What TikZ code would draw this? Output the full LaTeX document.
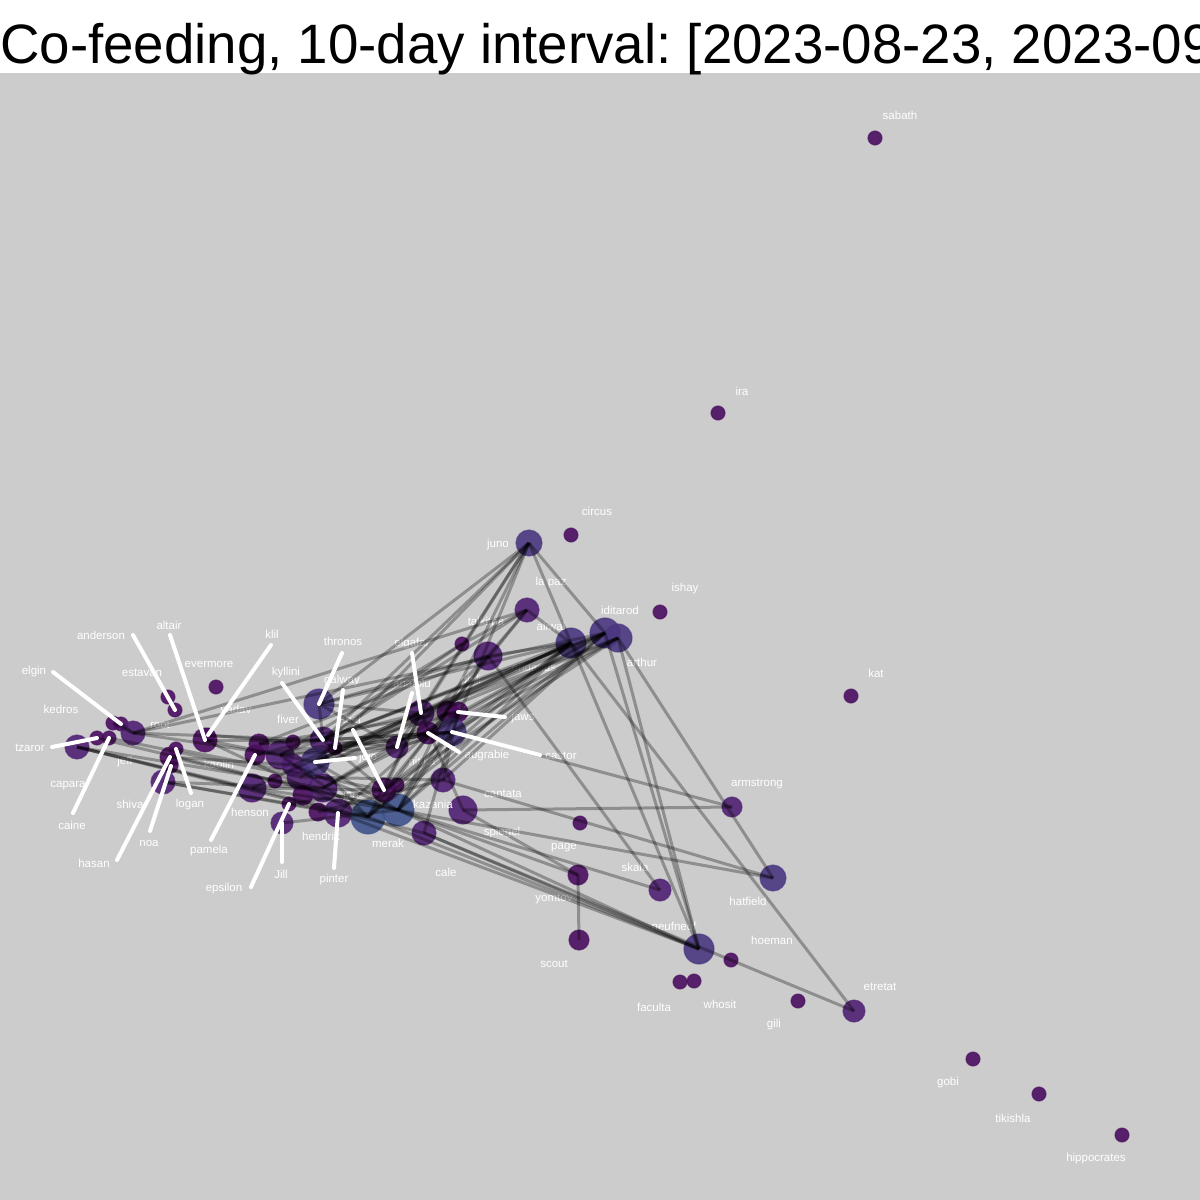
\documentclass[tikz,border=0pt]{standalone}
\usepackage{fontspec}
\setmainfont{Liberation Sans}
\frenchspacing
\definecolor{vs}{RGB}{75,14,96}
\definecolor{vm}{RGB}{80,33,115}
\definecolor{vl}{RGB}{74,55,128}
\definecolor{vb}{RGB}{64,84,140}
\definecolor{bg}{RGB}{204,204,204}
\tikzset{
  dot/.style={circle, draw=#1, fill=#1, inner sep=0pt, fill opacity=.9, draw opacity=.6, line width=1.2pt},
  lbl/.style={text=white, inner sep=0pt, font=\fontsize{11.5}{12}\selectfont},
  edge/.style={black, opacity=.3, line width=3pt},
  leader/.style={white, line width=4pt, line cap=round}
}
\begin{document}
\begin{tikzpicture}[x=1pt,y=-1pt]
\useasboundingbox (0,0) rectangle (1200,1200);
\fill[white] (0,0) rectangle (1200,73);
\fill[bg] (0,73) rectangle (1200,1200);
\node[anchor=base west, inner sep=0pt, font=\fontsize{55.5}{60}\selectfont] (title) at (0,63) {\scalebox{0.985}[1]{Co-feeding, 10-day interval: [2023-08-23, 2023-09}};

% outer nodes
\node[dot=vs, minimum size=14pt] (sabath) at (875,138) {};
\node[dot=vs, minimum size=14pt] (ira) at (718,413) {};
\node[dot=vs, minimum size=14pt] (circus) at (571,535) {};
\node[dot=vl, minimum size=26pt] (juno) at (529,543) {};
\node[dot=vm, minimum size=24pt] (lapaz) at (527,610) {};
\node[dot=vs, minimum size=14pt] (ishay) at (660,612) {};
\node[dot=vl, minimum size=30pt] (iditarod) at (605,633) {};
\node[dot=vl, minimum size=28pt] (arthur) at (618,638) {};
\node[dot=vl, minimum size=30pt] (aliwal) at (571,643) {};
\node[dot=vs, minimum size=14pt] (talkitna) at (462,644) {};
\node[dot=vm, minimum size=28pt] (eridanus) at (488,656) {};
\node[dot=vs, minimum size=14pt] (kat) at (851,696) {};
\node[dot=vm, minimum size=20pt] (armstrong) at (732,807) {};
\node[dot=vs, minimum size=14pt] (page) at (580,823) {};
\node[dot=vl, minimum size=26pt] (hatfield) at (773,878) {};
\node[dot=vs, minimum size=20pt] (yomtov) at (578,875) {};
\node[dot=vm, minimum size=22pt] (skala) at (660,890) {};
\node[dot=vs, minimum size=20pt] (scout) at (579,940) {};
\node[dot=vl, minimum size=30pt] (neufneuf) at (699,949) {};
\node[dot=vs, minimum size=14pt] (hoeman) at (731,960) {};
\node[dot=vs, minimum size=14pt] (faculta) at (680,982) {};
\node[dot=vs, minimum size=14pt] (whosit) at (694,981) {};
\node[dot=vs, minimum size=14pt] (gili) at (798,1001) {};
\node[dot=vm, minimum size=22pt] (etretat) at (854,1011) {};
\node[dot=vs, minimum size=14pt] (gobi) at (973,1059) {};
\node[dot=vs, minimum size=14pt] (tikishla) at (1039,1094) {};
\node[dot=vs, minimum size=14pt] (hippocrates) at (1122,1135) {};

% left group
\node[dot=vs, minimum size=14pt] (kedros) at (113,723) {};
\node[dot=vs, minimum size=14pt] (elgin) at (121,724) {};
\node[dot=vm, minimum size=24pt] (root) at (133,733) {};
\node[dot=vm, minimum size=24pt] (capara) at (77,747) {};
\node[dot=vs, minimum size=14pt] (tzaror) at (97,738) {};
\node[dot=vs, minimum size=14pt] (caine) at (109,738) {};
\node[dot=vs, minimum size=14pt] (estavan) at (168,697) {};
\node[dot=vs, minimum size=14pt] (anderson) at (175,710) {};
\node[dot=vs, minimum size=14pt] (evermore) at (216,687) {};
\node[dot=vs, minimum size=24pt] (altair) at (205,740) {};
\node[dot=vs, minimum size=14pt] (klil) at (208,735) {};
\node[dot=vm, minimum size=24pt] (shiva) at (163,782) {};
\node[dot=vs, minimum size=20pt] (hasan) at (170,757) {};
\node[dot=vs, minimum size=14pt] (logan) at (176,749) {};
\node[dot=vs, minimum size=14pt] (noa) at (171,766) {};

% centre group
\node[dot=vs, minimum size=20pt] (c01) at (259,744) {};
\node[dot=vs, minimum size=20pt] (pamela) at (255,755) {};
\node[dot=vm, minimum size=28pt] (c02) at (280,755) {};
\node[dot=vs, minimum size=14pt] (c03) at (293,742) {};
\node[dot=vm, minimum size=22pt] (c04) at (293,765) {};
\node[dot=vm, minimum size=26pt] (c05) at (300,777) {};
\node[dot=vs, minimum size=14pt] (c06) at (275,781) {};
\node[dot=vs, minimum size=20pt] (c07) at (303,795) {};
\node[dot=vm, minimum size=28pt] (henson) at (252,788) {};
\node[dot=vm, minimum size=22pt] (jill) at (282,823) {};
\node[dot=vs, minimum size=14pt] (epsilon) at (289,804) {};
\node[dot=vl, minimum size=30pt] (thronos) at (319,704) {};
\node[dot=vm, minimum size=26pt] (kyllini) at (323,740) {};
\node[dot=vl, minimum size=28pt] (jojo) at (315,762) {};
\node[dot=vs, minimum size=14pt] (galway) at (335,748) {};
\node[dot=vm, minimum size=28pt] (jog) at (323,788) {};
\node[dot=vs, minimum size=18pt] (hendrik) at (318,812) {};
\node[dot=vm, minimum size=28pt] (pinter) at (338,813) {};
\node[dot=vb, minimum size=34pt] (merak) at (368,817) {};
\node[dot=vb, minimum size=32pt] (kazania) at (398,810) {};
\node[dot=vs, minimum size=24pt] (abel) at (384,790) {};
\node[dot=vs, minimum size=14pt] (c08) at (397,785) {};
\node[dot=vm, minimum size=22pt] (anatolu) at (397,747) {};
\node[dot=vm, minimum size=26pt] (elgafar) at (421,713) {};
\node[dot=vs, minimum size=22pt] (augrabie) at (428,733) {};
\node[dot=vs, minimum size=22pt] (c09) at (448,712) {};
\node[dot=vs, minimum size=20pt] (jaws) at (458,712) {};
\node[dot=vl, minimum size=28pt] (castor) at (452,732) {};
\node[dot=vm, minimum size=24pt] (nitika) at (443,780) {};
\node[dot=vm, minimum size=28pt] (cantata) at (463,810) {};
\node[dot=vm, minimum size=24pt] (cale) at (424,833) {};

% labels
\node[lbl] (l-sabath) at (900,115) {sabath};
\node[lbl] (l-ira) at (742,391) {ira};
\node[lbl] (l-circus) at (597,511) {circus};
\node[lbl] (l-juno) at (498,545) {juno};
\node[lbl] (l-lapaz) at (551,583) {la paz};
\node[lbl] (l-ishay) at (685,589) {ishay};
\node[lbl] (l-iditarod) at (620,610) {iditarod};
\node[lbl] (l-arthur) at (642,662) {arthur};
\node[lbl] (l-aliwal) at (551,626) {aliwal};
\node[lbl] (l-talkitna) at (486,621) {talkitna};
\node[lbl] (l-eridanus) at (534,667) {eridanus};
\node[lbl] (l-kat) at (876,673) {kat};
\node[lbl] (l-armstrong) at (757,784) {armstrong};
\node[lbl] (l-page) at (564,848) {page};
\node[lbl] (l-hatfield) at (748,901) {hatfield};
\node[lbl] (l-yomtov) at (554,899) {yomtov};
\node[lbl] (l-skala) at (635,867) {skala};
\node[lbl] (l-scout) at (554,964) {scout};
\node[lbl] (l-neufneuf) at (674,926) {neufneuf};
\node[lbl] (l-hoeman) at (772,940) {hoeman};
\node[lbl] (l-faculta) at (654,1007) {faculta};
\node[lbl] (l-whosit) at (720,1004) {whosit};
\node[lbl] (l-gili) at (774,1025) {gili};
\node[lbl] (l-etretat) at (880,987) {etretat};
\node[lbl] (l-gobi) at (948,1083) {gobi};
\node[lbl] (l-tikishla) at (1013,1118) {tikishla};
\node[lbl] (l-hippocrates) at (1096,1159) {hippocrates};
\node[lbl] (l-kedros) at (61,709) {kedros};
\node[lbl] (l-root) at (160,725) {root};
\node[lbl] (l-jeff) at (125,762) {jeff};
\node[lbl] (l-capara) at (68,786) {capara};
\node[lbl] (l-estavan) at (142,673) {estavan};
\node[lbl] (l-evermore) at (209,664) {evermore};
\node[lbl] (l-yadav) at (236,711) {yadav};
\node[lbl] (l-kaolin) at (219,764) {kaolin};
\node[lbl] (l-shiva) at (130,804) {shiva};
\node[lbl] (l-henson) at (250,812) {henson};
\node[lbl] (l-hendrik) at (321,836) {hendrik};
\node[lbl] (l-fiver) at (288,719) {fiver};
\node[lbl] (l-jog) at (351,796) {jog};
\node[lbl] (l-merak) at (388,843) {merak};
\node[lbl] (l-kazania) at (433,804) {kazania};
\node[lbl] (l-nitika) at (422,761) {nitika};
\node[lbl] (l-phili) at (471,681) {phili};
\node[lbl] (l-cantata) at (503,794) {cantata};
\node[lbl] (l-spiegel) at (502,833) {spiegel};
\node[lbl] (l-cale) at (446,872) {cale};
\node[lbl] (l-elgin) at (34,672) {elgin};
\node[lbl] (l-anderson) at (101,635) {anderson};
\node[lbl] (l-altair) at (169,625) {altair};
\node[lbl] (l-klil) at (272,634) {klil};
\node[lbl] (l-tzaror) at (30,748) {tzaror};
\node[lbl] (l-caine) at (72,825) {caine};
\node[lbl] (l-hasan) at (94,863) {hasan};
\node[lbl] (l-noa) at (149,843) {noa};
\node[lbl] (l-logan) at (190,805) {logan};
\node[lbl] (l-pamela) at (209,851) {pamela};
\node[lbl] (l-jill) at (281,874) {Jill};
\node[lbl] (l-epsilon) at (224,889) {epsilon};
\node[lbl] (l-thronos) at (343,641) {thronos};
\node[lbl] (l-kyllini) at (286,673) {kyllini};
\node[lbl] (l-galway) at (342,681) {galway};
\node[lbl] (l-abel) at (350,719) {abel};
\node[lbl] (l-jojo) at (368,758) {jojo};
\node[lbl] (l-elgafar) at (412,644) {elgafar};
\node[lbl] (l-anatolu) at (412,683) {anatolu};
\node[lbl] (l-jaws) at (523,718) {jaws};
\node[lbl] (l-castor) at (561,756) {castor};
\node[lbl] (l-augrabie) at (487,756) {augrabie};
\node[lbl] (l-pinter) at (334,880) {pinter};

% edges
\path[draw,edge] (juno.center) -- (thronos.center);
\path[draw,edge] (juno.center) -- (jojo.center);
\path[draw,edge] (juno.center) -- (anatolu.center);
\path[draw,edge] (juno.center) -- (elgafar.center);
\path[draw,edge] (juno.center) -- (castor.center);
\path[draw,edge] (juno.center) -- (aliwal.center);
\path[draw,edge] (juno.center) -- (iditarod.center);
\path[draw,edge] (juno.center) -- (kyllini.center);
\path[draw,edge] (juno.center) -- (kazania.center);
\path[draw,edge] (lapaz.center) -- (talkitna.center);
\path[draw,edge] (lapaz.center) -- (eridanus.center);
\path[draw,edge] (lapaz.center) -- (kyllini.center);
\path[draw,edge] (lapaz.center) -- (root.center);
\path[draw,edge] (lapaz.center) -- (aliwal.center);
\path[draw,edge] (lapaz.center) -- (augrabie.center);
\path[draw,edge] (aliwal.center) -- (thronos.center);
\path[draw,edge] (aliwal.center) -- (kyllini.center);
\path[draw,edge] (aliwal.center) -- (jojo.center);
\path[draw,edge] (aliwal.center) -- (abel.center);
\path[draw,edge] (aliwal.center) -- (merak.center);
\path[draw,edge] (aliwal.center) -- (kazania.center);
\path[draw,edge] (aliwal.center) -- (elgafar.center);
\path[draw,edge] (aliwal.center) -- (castor.center);
\path[draw,edge] (aliwal.center) -- (henson.center);
\path[draw,edge] (aliwal.center) -- (c05.center);
\path[draw,edge] (aliwal.center) -- (neufneuf.center);
\path[draw,edge] (aliwal.center) -- (etretat.center);
\path[draw,edge] (aliwal.center) -- (eridanus.center);
\path[draw,edge] (iditarod.center) -- (kyllini.center);
\path[draw,edge] (iditarod.center) -- (jojo.center);
\path[draw,edge] (iditarod.center) -- (merak.center);
\path[draw,edge] (iditarod.center) -- (kazania.center);
\path[draw,edge] (iditarod.center) -- (augrabie.center);
\path[draw,edge] (iditarod.center) -- (c02.center);
\path[draw,edge] (iditarod.center) -- (neufneuf.center);
\path[draw,edge] (iditarod.center) -- (root.center);
\path[draw,edge] (iditarod.center) -- (anatolu.center);
\path[draw,edge] (iditarod.center) -- (nitika.center);
\path[draw,edge] (arthur.center) -- (jojo.center);
\path[draw,edge] (arthur.center) -- (abel.center);
\path[draw,edge] (arthur.center) -- (castor.center);
\path[draw,edge] (arthur.center) -- (neufneuf.center);
\path[draw,edge] (arthur.center) -- (hatfield.center);
\path[draw,edge] (arthur.center) -- (jog.center);
\path[draw,edge] (arthur.center) -- (elgafar.center);
\path[draw,edge] (eridanus.center) -- (skala.center);
\path[draw,edge] (eridanus.center) -- (thronos.center);
\path[draw,edge] (eridanus.center) -- (c01.center);
\path[draw,edge] (eridanus.center) -- (anatolu.center);
\path[draw,edge] (eridanus.center) -- (merak.center);
\path[draw,edge] (talkitna.center) -- (kyllini.center);
\path[draw,edge] (talkitna.center) -- (c02.center);
\path[draw,edge] (cantata.center) -- (armstrong.center);
\path[draw,edge] (castor.center) -- (armstrong.center);
\path[draw,edge] (kazania.center) -- (hatfield.center);
\path[draw,edge] (nitika.center) -- (hatfield.center);
\path[draw,edge] (merak.center) -- (neufneuf.center);
\path[draw,edge] (kazania.center) -- (neufneuf.center);
\path[draw,edge] (cale.center) -- (neufneuf.center);
\path[draw,edge] (pinter.center) -- (neufneuf.center);
\path[draw,edge] (cantata.center) -- (yomtov.center);
\path[draw,edge] (kazania.center) -- (yomtov.center);
\path[draw,edge] (yomtov.center) -- (scout.center);
\path[draw,edge] (kazania.center) -- (skala.center);
\path[draw,edge] (cale.center) -- (etretat.center);
\path[draw,edge] (root.center) -- (c02.center);
\path[draw,edge] (root.center) -- (kyllini.center);
\path[draw,edge] (capara.center) -- (henson.center);
\path[draw,edge] (capara.center) -- (jog.center);
\path[draw,edge] (capara.center) -- (merak.center);
\path[draw,edge] (capara.center) -- (cale.center);
\path[draw,edge] (tzaror.center) -- (kazania.center);
\path[draw,edge] (caine.center) -- (c05.center);
\path[draw,edge] (altair.center) -- (kyllini.center);
\path[draw,edge] (altair.center) -- (jojo.center);
\path[draw,edge] (altair.center) -- (merak.center);
\path[draw,edge] (shiva.center) -- (merak.center);
\path[draw,edge] (shiva.center) -- (jog.center);
\path[draw,edge] (shiva.center) -- (pinter.center);
\path[draw,edge] (hasan.center) -- (kazania.center);
\path[draw,edge] (hasan.center) -- (c04.center);
\path[draw,edge] (logan.center) -- (abel.center);
\path[draw,edge] (kedros.center) -- (root.center);
\path[draw,edge] (elgin.center) -- (root.center);
\path[draw,edge] (klil.center) -- (c03.center);
\path[draw,edge] (thronos.center) -- (kyllini.center);
\path[draw,edge] (thronos.center) -- (elgafar.center);
\path[draw,edge] (thronos.center) -- (anatolu.center);
\path[draw,edge] (kyllini.center) -- (anatolu.center);
\path[draw,edge] (kyllini.center) -- (castor.center);
\path[draw,edge] (kyllini.center) -- (abel.center);
\path[draw,edge] (jojo.center) -- (merak.center);
\path[draw,edge] (jojo.center) -- (kazania.center);
\path[draw,edge] (jojo.center) -- (anatolu.center);
\path[draw,edge] (jojo.center) -- (elgafar.center);
\path[draw,edge] (jojo.center) -- (augrabie.center);
\path[draw,edge] (c02.center) -- (merak.center);
\path[draw,edge] (c02.center) -- (anatolu.center);
\path[draw,edge] (c02.center) -- (castor.center);
\path[draw,edge] (c04.center) -- (kazania.center);
\path[draw,edge] (c04.center) -- (elgafar.center);
\path[draw,edge] (c05.center) -- (nitika.center);
\path[draw,edge] (galway.center) -- (castor.center);
\path[draw,edge] (galway.center) -- (jaws.center);
\path[draw,edge] (jog.center) -- (anatolu.center);
\path[draw,edge] (jog.center) -- (c09.center);
\path[draw,edge] (henson.center) -- (abel.center);
\path[draw,edge] (henson.center) -- (kazania.center);
\path[draw,edge] (pamela.center) -- (augrabie.center);
\path[draw,edge] (pamela.center) -- (elgafar.center);
\path[draw,edge] (c01.center) -- (jaws.center);
\path[draw,edge] (c01.center) -- (castor.center);
\path[draw,edge] (merak.center) -- (elgafar.center);
\path[draw,edge] (merak.center) -- (castor.center);
\path[draw,edge] (kazania.center) -- (castor.center);
\path[draw,edge] (kazania.center) -- (jaws.center);
\path[draw,edge] (abel.center) -- (elgafar.center);
\path[draw,edge] (abel.center) -- (c09.center);
\path[draw,edge] (anatolu.center) -- (castor.center);
\path[draw,edge] (pinter.center) -- (augrabie.center);
\path[draw,edge] (cale.center) -- (castor.center);
\path[draw,edge] (cantata.center) -- (elgafar.center);
\path[draw,edge] (nitika.center) -- (jaws.center);
\path[draw,edge] (hendrik.center) -- (nitika.center);
\path[draw,edge] (jill.center) -- (kazania.center);
\path[draw,edge] (epsilon.center) -- (abel.center);

% leaders
\coordinate (t-elgin) at (53,672);
\coordinate (t-anderson) at (133,635);
\coordinate (t-altair) at (170,635);
\coordinate (t-klil) at (271,645);
\coordinate (t-tzaror) at (52,747);
\coordinate (t-caine) at (73,813);
\coordinate (t-hasan) at (117,860);
\coordinate (t-noa) at (150,831);
\coordinate (t-logan) at (191,793);
\coordinate (t-pamela) at (211,840);
\coordinate (t-jill) at (282,862);
\coordinate (t-epsilon) at (251,887);
\coordinate (t-thronos) at (342,653);
\coordinate (t-kyllini) at (282,683);
\coordinate (t-galway) at (343,690);
\coordinate (t-abel) at (353,730);
\coordinate (t-jojo) at (355,758);
\coordinate (t-elgafar) at (412,653);
\coordinate (t-anatolu) at (412,693);
\coordinate (t-jaws) at (505,717);
\coordinate (t-castor) at (540,755);
\coordinate (t-augrabie) at (459,752);
\coordinate (t-pinter) at (334,868);
\path[draw,leader] (t-elgin) -- (elgin.center);
\path[draw,leader] (t-anderson) -- (anderson.center);
\path[draw,leader] (t-altair) -- (altair.center);
\path[draw,leader] (t-klil) -- (klil.center);
\path[draw,leader] (t-tzaror) -- (tzaror.center);
\path[draw,leader] (t-caine) -- (caine.center);
\path[draw,leader] (t-hasan) -- (hasan.center);
\path[draw,leader] (t-noa) -- (noa.center);
\path[draw,leader] (t-logan) -- (logan.center);
\path[draw,leader] (t-pamela) -- (pamela.center);
\path[draw,leader] (t-jill) -- (jill.center);
\path[draw,leader] (t-epsilon) -- (epsilon.center);
\path[draw,leader] (t-thronos) -- (thronos.center);
\path[draw,leader] (t-kyllini) -- (kyllini.center);
\path[draw,leader] (t-galway) -- (galway.center);
\path[draw,leader] (t-abel) -- (abel.center);
\path[draw,leader] (t-jojo) -- (jojo.center);
\path[draw,leader] (t-elgafar) -- (elgafar.center);
\path[draw,leader] (t-anatolu) -- (anatolu.center);
\path[draw,leader] (t-jaws) -- (jaws.center);
\path[draw,leader] (t-castor) -- (castor.center);
\path[draw,leader] (t-augrabie) -- (augrabie.center);
\path[draw,leader] (t-pinter) -- (pinter.center);
\end{tikzpicture}
\end{document}
